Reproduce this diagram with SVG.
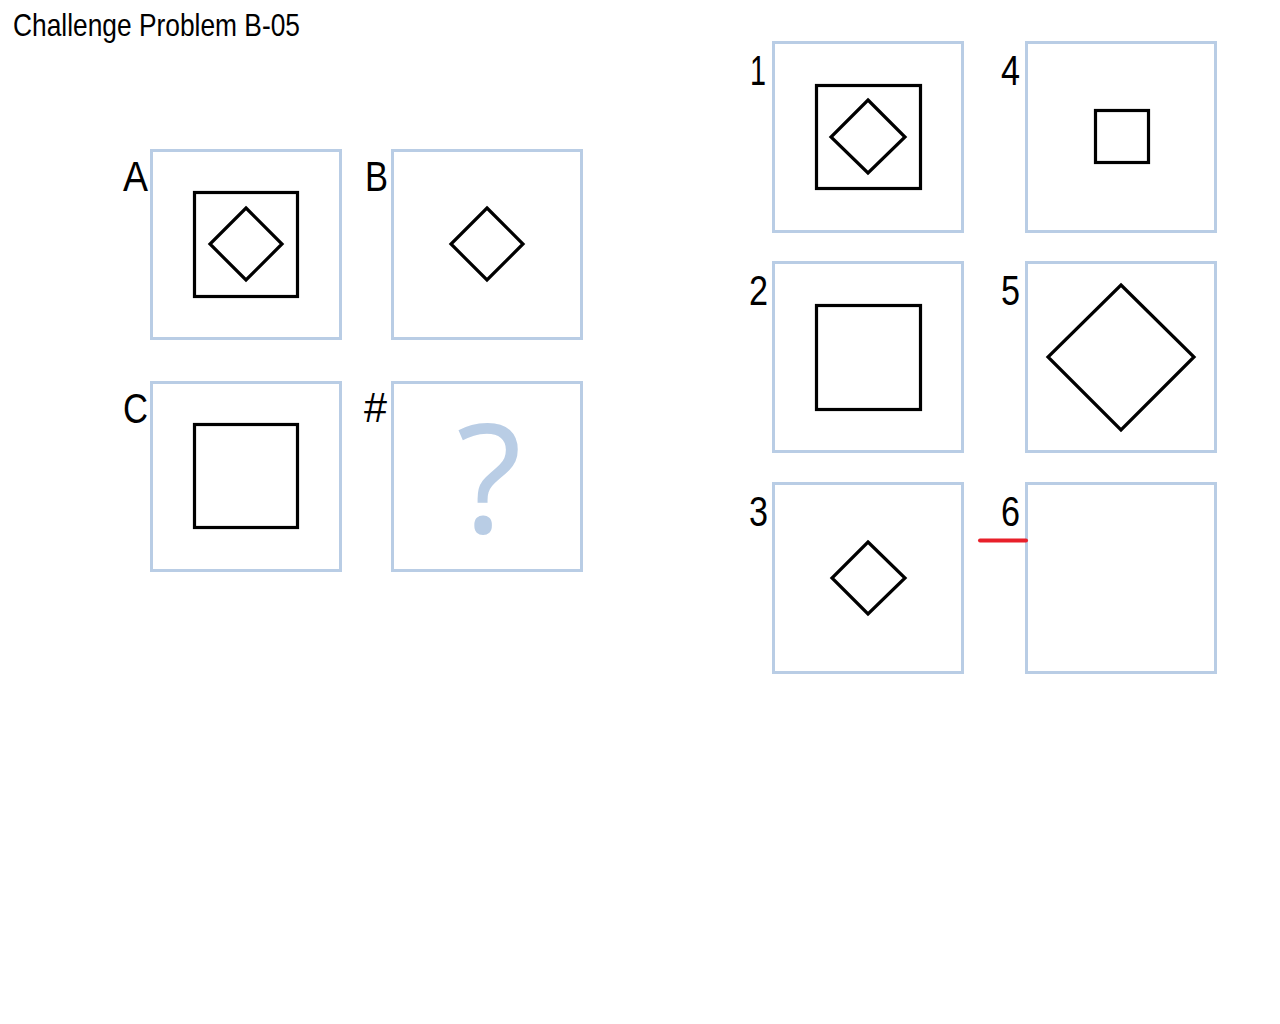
<svg xmlns="http://www.w3.org/2000/svg" width="1280" height="1024" viewBox="0 0 1280 1024">
<style>
.frame{fill:#fff;stroke:#b9cde5;stroke-width:3}
.shape{fill:none;stroke:#000;stroke-width:3.2;stroke-linejoin:miter}
.lbl{font-family:"Liberation Sans",Arial,sans-serif;font-size:42px;fill:#000}
.title{font-family:"Liberation Sans",Arial,sans-serif;font-size:32px;fill:#000}
.q{font-family:"Open Sans","Noto Sans",sans-serif;font-size:152px;fill:#b9cde5}
</style>
<rect width="1280" height="1024" fill="#fff"/>
<text class="title" x="13" y="36" textLength="287" lengthAdjust="spacingAndGlyphs">Challenge Problem B-05</text>
<g id="A">
<rect class="frame" x="151.5" y="150.5" width="189" height="188"/>
<rect class="shape" x="194.5" y="192.5" width="103" height="104"/>
<polygon class="shape" points="246,208 282,244 246,280 210,244"/>
<text class="lbl" x="123" y="191" textLength="25" lengthAdjust="spacingAndGlyphs">A</text>
</g>
<g id="B">
<rect class="frame" x="392.5" y="150.5" width="189" height="188"/>
<polygon class="shape" points="487,208 523,244 487,280 451,244"/>
<text class="lbl" x="365" y="191" textLength="23" lengthAdjust="spacingAndGlyphs">B</text>
</g>
<g id="C">
<rect class="frame" x="151.5" y="382.5" width="189" height="188"/>
<rect class="shape" x="194.5" y="424.5" width="103" height="103"/>
<text class="lbl" x="123" y="423" textLength="25" lengthAdjust="spacingAndGlyphs">C</text>
</g>
<g id="Q">
<rect class="frame" x="392.5" y="382.5" width="189" height="188"/>
<text class="q" x="489" y="533" text-anchor="middle">?</text>
<text class="lbl" x="364" y="422" textLength="23" lengthAdjust="spacingAndGlyphs">#</text>
</g>
<g id="opt1">
<rect class="frame" x="773.5" y="42.5" width="189" height="189"/>
<rect class="shape" x="816.5" y="85.5" width="104" height="103"/>
<polygon class="shape" points="868,100 905,137 868,173 831,137"/>
<text class="lbl" x="750" y="85" textLength="16" lengthAdjust="spacingAndGlyphs">1</text>
</g>
<g id="opt4">
<rect class="frame" x="1026.5" y="42.5" width="189" height="189"/>
<rect class="shape" x="1095.5" y="110.5" width="53" height="52"/>
<text class="lbl" x="1001" y="85" textLength="19" lengthAdjust="spacingAndGlyphs">4</text>
</g>
<g id="opt2">
<rect class="frame" x="773.5" y="262.5" width="189" height="189"/>
<rect class="shape" x="816.5" y="305.5" width="104" height="104"/>
<text class="lbl" x="749" y="305" textLength="19" lengthAdjust="spacingAndGlyphs">2</text>
</g>
<g id="opt5">
<rect class="frame" x="1026.5" y="262.5" width="189" height="189"/>
<polygon class="shape" points="1121,285 1194,357 1121,430 1048,357"/>
<text class="lbl" x="1001" y="305" textLength="19" lengthAdjust="spacingAndGlyphs">5</text>
</g>
<g id="opt3">
<rect class="frame" x="773.5" y="483.5" width="189" height="189"/>
<polygon class="shape" points="868,542 905,578 868,614 832,578"/>
<text class="lbl" x="749" y="526" textLength="19" lengthAdjust="spacingAndGlyphs">3</text>
</g>
<g id="opt6">
<rect class="frame" x="1026.5" y="483.5" width="189" height="189"/>
<text class="lbl" x="1001" y="526" textLength="19" lengthAdjust="spacingAndGlyphs">6</text>
</g>
<g id="connectors">
<line x1="980" y1="540.5" x2="1026" y2="540.5" stroke="#e8202a" stroke-width="4" stroke-linecap="round"/>
</g>
</svg>
